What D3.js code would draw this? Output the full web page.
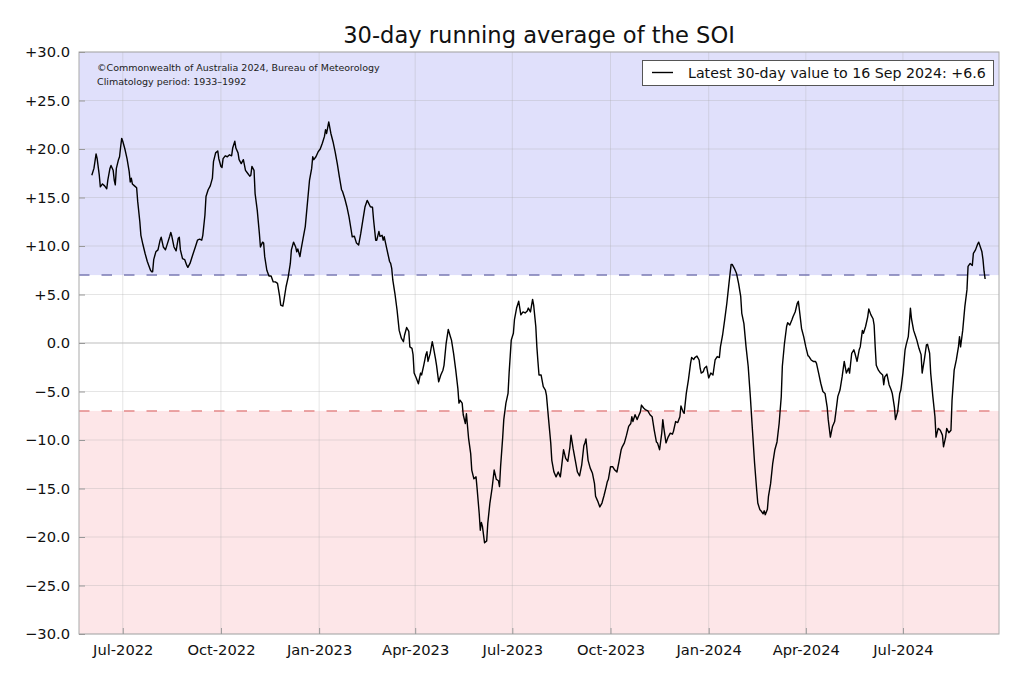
<!DOCTYPE html>
<html>
<head>
<meta charset="utf-8">
<script src="https://cdn.jsdelivr.net/npm/d3@7"></script>
<style>
  html, body { margin: 0; padding: 0; background: #ffffff; }
  svg { display: block; font-family: "DejaVu Sans", sans-serif; }
</style>
</head>
<body>
<svg id="chart" width="1024" height="683"></svg>
<script>
// ---------------- data ----------------
const titleText = "30-day running average of the SOI";
const legendText = "Latest 30-day value to 16 Sep 2024: +6.6";
const creditLines = ["\u00A9Commonwealth of Australia 2024, Bureau of Meteorology", "Climatology period: 1933\u20131992"];
const baseDateStr = "2022-07-01";           // day 0 of dayIndex
const xDomainStr = ["2022-05-21", "2024-09-29"];
const yDomain = [-30, 30];
const yTickValues = [-30, -25, -20, -15, -10, -5, 0, 5, 10, 15, 20, 25, 30];
const upperThreshold = 7;
const lowerThreshold = -7;

// days since 1 Jul 2022
const dayIndex = [
-29,-27,-25,-24,-22,-21,-19,-17,-15,-14,-12,-11,-9,-8,-7,-6,-4,-3,-2,-1,
0,2,4,6,7,8,9,11,13,14,16,17,19,21,23,26,27,28,29,31,
33,35,36,38,40,42,44,45,46,48,50,52,53,54,56,58,60,61,63,65,
68,70,72,74,75,77,78,80,82,84,85,87,89,90,92,93,94,96,98,100,
102,103,105,106,108,109,111,113,115,117,119,120,121,123,124,126,128,129,131,132,
133,135,137,139,141,143,145,147,148,150,151,153,155,157,158,160,162,163,164,166,
167,169,171,173,175,177,178,179,181,183,185,187,189,190,191,193,195,197,199,201,
203,205,206,208,210,212,214,215,217,219,221,223,225,227,229,230,232,234,235,237,
238,240,241,243,244,245,247,249,250,251,252,253,255,257,259,261,263,264,266,268,
269,271,272,273,275,277,279,280,282,284,285,286,288,290,291,293,294,296,298,300,
301,303,305,307,308,310,312,314,315,316,318,319,321,322,324,326,327,329,331,332,
334,335,336,337,339,341,342,344,346,348,350,352,353,354,356,357,359,361,362,364,
366,367,369,371,373,375,377,379,380,382,384,385,387,388,389,390,392,394,396,397,
399,401,402,404,406,408,410,411,413,415,417,419,420,422,424,426,428,430,432,433,
434,436,438,440,442,443,445,447,449,451,453,454,455,457,459,461,463,465,467,468,
470,472,474,476,477,478,480,482,483,485,486,488,490,492,494,496,498,500,501,503,
505,506,507,509,511,513,515,516,518,520,522,523,525,526,528,530,532,533,535,536,
538,540,541,542,544,545,547,549,551,553,555,557,559,560,562,564,566,568,570,571,
573,575,577,579,580,582,584,586,588,590,592,594,595,597,598,600,601,602,604,605,
607,609,611,613,615,617,618,620,622,623,625,627,628,630,632,633,634,636,638,640,
642,643,645,647,649,650,652,654,656,658,660,661,663,665,667,668,670,672,674,676,
678,680,681,683,685,686,688,690,691,693,694,696,698,699,701,703,704,705,706,708,
710,712,713,714,716,718,720,721,723,724,726,728,729,731,733,734,736,737,738,739,
741,743,744,746,748,749,751,753,754,756,757,759,761,762,764,766,768,769,771,772,
774,776,777,779,781,783,784,785,787,789,791,792,794,796,797,799,801,802,804,805,
806,807,808
];

const soi = [
17.3,18.0,19.5,19.0,17.3,16.1,16.4,16.2,15.9,16.8,18.0,18.3,17.8,16.8,16.3,18.0,18.9,19.2,20.2,21.1,
20.8,20.0,19.0,17.7,16.6,17.0,16.4,16.2,16.0,14.6,12.5,11.1,10.1,9.2,8.4,7.5,7.35,7.35,8.6,9.4,
9.6,10.6,10.9,9.9,9.6,10.3,11.0,11.4,11.0,9.9,9.5,10.8,10.9,9.6,8.7,8.6,8.0,7.8,8.2,8.9,
9.9,10.6,10.7,10.6,11.1,13.2,15.1,15.8,16.2,17.0,18.7,19.6,19.8,19.0,18.2,18.1,19.0,19.3,19.2,19.4,
19.3,20.1,20.8,20.1,19.6,18.9,18.5,18.9,17.8,17.5,17.2,17.3,18.2,17.8,15.4,13.7,11.3,9.9,10.4,10.3,
8.9,7.5,6.9,6.9,6.3,6.3,6.15,4.8,3.9,3.8,4.4,5.8,6.8,8.2,9.6,10.4,9.9,9.4,9.7,8.9,
9.6,10.8,12.0,14.4,16.8,18.0,19.2,18.9,19.2,19.7,20.0,20.6,21.3,22.0,21.6,22.8,21.6,20.75,19.7,18.5,
17.1,15.8,15.6,14.9,14.05,13.0,11.65,10.95,11.0,10.3,10.1,11.3,12.7,14.05,14.7,14.5,14.05,14.0,12.7,10.6,
10.6,11.5,11.0,11.1,10.6,10.95,9.9,8.9,8.4,8.2,7.7,6.5,5.1,3.4,1.3,0.5,0.13,0.8,1.6,1.2,
-0.4,-0.55,-1.2,-3.1,-3.6,-4.2,-3.1,-3.3,-2.3,-1.2,-0.9,-1.9,-1.1,0.13,-0.4,-1.6,-2.3,-4.0,-3.3,-2.8,
-2.3,-0.03,1.4,0.65,0.3,-1.1,-2.8,-4.7,-6.2,-5.9,-6.2,-7.4,-8.3,-7.3,-9.8,-11.4,-13.1,-14.0,-13.8,-15.0,
-17.6,-19.3,-18.5,-18.9,-20.6,-20.4,-18.6,-16.5,-15.0,-13.1,-14.05,-14.2,-14.8,-12.75,-9.7,-7.9,-6.2,-5.2,-3.1,0.3,
1.0,2.4,3.6,4.3,2.9,3.2,3.1,3.3,3.6,3.2,4.5,3.9,1.7,-0.4,-1.9,-3.3,-3.3,-4.5,-4.85,-5.4,
-7.9,-10.3,-12.1,-13.3,-13.8,-13.3,-13.8,-12.9,-11.0,-11.9,-12.2,-10.7,-9.5,-10.9,-12.1,-13.3,-13.7,-12.6,-10.6,-10.3,
-9.9,-12.1,-12.9,-13.4,-14.5,-15.8,-16.3,-16.9,-16.5,-15.7,-14.8,-14.3,-14.05,-12.75,-12.75,-13.1,-13.3,-12.2,-11.0,-10.7,
-10.3,-9.5,-8.6,-8.3,-7.6,-8.1,-7.4,-7.9,-7.6,-7.1,-6.4,-6.7,-6.9,-7.0,-7.4,-7.6,-9.0,-10.2,-10.3,-11.0,
-9.3,-7.9,-8.8,-10.3,-9.7,-9.3,-9.4,-9.1,-8.1,-8.2,-7.6,-6.5,-7.1,-7.25,-5.2,-3.8,-2.1,-1.5,-1.7,-1.5,
-1.35,-1.75,-2.6,-3.1,-2.95,-2.6,-2.4,-3.6,-3.1,-3.3,-1.75,-1.4,-1.5,-0.4,0.8,2.4,4.1,6.15,8.1,8.1,
7.7,7.2,6.15,4.8,3.06,2.0,-0.4,-2.4,-5.5,-9.0,-12.4,-15.2,-16.5,-17.2,-17.3,-17.6,-17.3,-17.7,-17.15,-15.8,
-14.5,-12.4,-11.0,-10.2,-8.3,-5.5,-2.4,-0.03,1.7,2.1,1.85,2.4,2.7,3.2,4.1,4.3,3.4,1.5,0.65,-0.4,
-1.3,-1.4,-1.75,-1.9,-1.9,-2.1,-3.1,-4.15,-5.0,-5.2,-6.6,-7.9,-9.7,-8.6,-8.1,-7.25,-5.5,-4.85,-3.5,-1.9,
-3.1,-2.6,-3.1,-1.06,-0.7,-1.06,-1.9,-0.7,-0.4,1.3,1.0,1.7,2.7,3.5,2.9,2.5,1.85,-0.4,-2.3,-2.8,
-3.1,-3.3,-4.3,-3.5,-3.2,-4.3,-4.85,-5.2,-6.6,-7.9,-7.1,-5.2,-4.85,-3.1,-0.7,-0.2,0.65,2.0,3.6,2.5,
1.3,0.65,0.3,-0.55,-1.2,-3.1,-1.75,-0.2,-0.13,-1.06,-3.1,-5.5,-7.6,-9.7,-8.8,-9.0,-9.5,-10.7,-9.7,-8.8,
-9.25,-9.0,-5.9,-2.8,-1.75,-0.4,0.65,-0.4,1.3,3.75,5.5,7.9,8.2,8.0,9.25,9.6,10.2,10.4,9.75,9.4,
8.6,7.4,6.6
];

// ---------------- chart ----------------
const parse = d3.timeParse("%Y-%m-%d");
const baseDate = parse(baseDateStr);
const series = dayIndex.map((d, i) => ({ date: d3.timeDay.offset(baseDate, d), value: soi[i] }));

const plot = { left: 79, right: 999, top: 52, bottom: 634 };
const svg = d3.select("#chart");

const x = d3.scaleTime().domain(xDomainStr.map(parse)).range([plot.left, plot.right]);
const y = d3.scaleLinear().domain(yDomain).range([plot.bottom, plot.top]);

const W = plot.right - plot.left;

// shaded regions
svg.append("rect").attr("x", plot.left).attr("width", W)
  .attr("y", y(yDomain[1])).attr("height", y(upperThreshold) - y(yDomain[1]))
  .attr("fill", "#e0e0fb");
svg.append("rect").attr("x", plot.left).attr("width", W)
  .attr("y", y(lowerThreshold)).attr("height", y(yDomain[0]) - y(lowerThreshold))
  .attr("fill", "#fde6e8");

// grid
const monthTicks = x.ticks(d3.timeMonth.every(3));
const grid = svg.append("g");
grid.selectAll(".vg").data(monthTicks).join("line")
  .attr("x1", d => x(d)).attr("x2", d => x(d))
  .attr("y1", plot.top).attr("y2", plot.bottom)
  .attr("stroke", "#a8a8a8").attr("stroke-opacity", 0.3).attr("stroke-width", 1);
grid.selectAll(".hg").data(yTickValues.filter(v => v !== 0)).join("line")
  .attr("x1", plot.left).attr("x2", plot.right)
  .attr("y1", d => y(d)).attr("y2", d => y(d))
  .attr("stroke", "#a8a8a8").attr("stroke-opacity", 0.3).attr("stroke-width", 1);
grid.append("line")
  .attr("x1", plot.left).attr("x2", plot.right)
  .attr("y1", y(0)).attr("y2", y(0))
  .attr("stroke", "#bdbdbd").attr("stroke-width", 1.2);

// thresholds
svg.append("line").attr("x1", plot.left).attr("x2", plot.right)
  .attr("y1", y(upperThreshold)).attr("y2", y(upperThreshold))
  .attr("stroke", "#7a7ab4").attr("stroke-width", 1.5).attr("stroke-dasharray", "10.5,12");
svg.append("line").attr("x1", plot.left).attr("x2", plot.right)
  .attr("y1", y(lowerThreshold)).attr("y2", y(lowerThreshold))
  .attr("stroke", "#e48888").attr("stroke-width", 1.5).attr("stroke-dasharray", "10.5,12");

// line
svg.append("path").datum(series)
  .attr("fill", "none").attr("stroke", "#000").attr("stroke-width", 1.4)
  .attr("stroke-linejoin", "round")
  .attr("d", d3.line().x(d => x(d.date)).y(d => y(d.value)));

// frame
svg.append("rect").attr("x", plot.left).attr("y", plot.top)
  .attr("width", W).attr("height", plot.bottom - plot.top)
  .attr("fill", "none").attr("stroke", "#aaaaaa").attr("stroke-width", 1);

// axes
const fmtY = v => v > 0 ? "+" + v.toFixed(1) : v < 0 ? "\u2212" + Math.abs(v).toFixed(1) : "0.0";
const yAxis = d3.axisLeft(y).tickValues(yTickValues).tickFormat(fmtY).tickSizeInner(-6).tickSizeOuter(0).tickPadding(9);
const gy = svg.append("g").attr("transform", `translate(${plot.left},0)`).call(yAxis);
gy.select(".domain").remove();
gy.selectAll(".tick line").attr("stroke", "#999");
gy.selectAll(".tick text").attr("font-family", "DejaVu Sans").attr("font-size", 14.7).attr("fill", "#111");

const xAxis = d3.axisBottom(x).tickValues(monthTicks).tickFormat(d3.timeFormat("%b-%Y")).tickSizeInner(-6).tickSizeOuter(0).tickPadding(11);
const gx = svg.append("g").attr("transform", `translate(0,${plot.bottom})`).call(xAxis);
gx.select(".domain").remove();
gx.selectAll(".tick line").attr("stroke", "#999");
gx.selectAll(".tick text").attr("font-family", "DejaVu Sans").attr("font-size", 14.7).attr("fill", "#111");

// title
svg.append("text").attr("x", (plot.left + plot.right) / 2).attr("y", 43)
  .attr("text-anchor", "middle").attr("font-size", 22.6).attr("fill", "#111")
  .text(titleText);

// credits
svg.selectAll(".credit").data(creditLines).join("text")
  .attr("x", 97).attr("y", (d, i) => 71 + i * 14)
  .attr("font-size", 9.5).attr("fill", "#222").text(d => d);

// legend
const lg = svg.append("g");
lg.append("rect").attr("x", 642.5).attr("y", 60.5).attr("width", 351).attr("height", 25)
  .attr("fill", "#fff").attr("stroke", "#555").attr("stroke-width", 1);
lg.append("line").attr("x1", 652).attr("x2", 673).attr("y1", 72.5).attr("y2", 72.5)
  .attr("stroke", "#000").attr("stroke-width", 1.4);
lg.append("text").attr("x", 688).attr("y", 77.5).attr("font-size", 14.2).attr("fill", "#111").text(legendText);
</script>
</body>
</html>
